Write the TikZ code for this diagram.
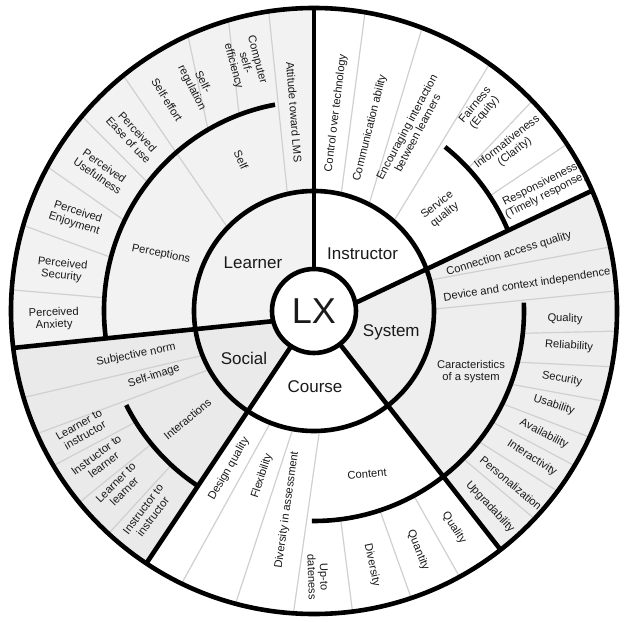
\documentclass[tikz,border=0pt]{standalone}
\usepackage{fontspec}
\setmainfont{Liberation Sans}
\usepackage{tikz}
\usetikzlibrary{calc}

\definecolor{learnerfill}{HTML}{F2F2F2}
\definecolor{systemfill}{HTML}{EEEEEE}
\definecolor{socialfill}{HTML}{EAEAEA}
\definecolor{sepgray}{HTML}{D0D0D0}
\definecolor{ink}{HTML}{1A1A1A}

\tikzset{
  bold line/.style={line width=4.6pt},
  leaf sep/.style={draw=sepgray, line width=1.2pt},
  leaf/.style={font=\fontsize{11.2}{12.2}\selectfont, text=ink, align=center, inner sep=0pt},
  core/.style={font=\fontsize{17}{20}\selectfont, text=ink, inner sep=0pt},
}

\begin{document}
\begin{tikzpicture}[x=1pt, y=1pt]
\useasboundingbox (-314,-310) rectangle (312,311);

% Disc and shaded sectors
\fill[white] (0,0) circle (303);
\fill[learnerfill] (90:42) -- (90:303) arc[start angle=90, end angle=187, radius=303]
  -- (194:42) arc[start angle=194, end angle=90, radius=42] -- cycle;
\fill[systemfill] (11:42) -- (23.4:303) arc[start angle=23.4, end angle=-52, radius=303]
  -- (-52:42) arc[start angle=-52, end angle=11, radius=42] -- cycle;
\fill[socialfill] (194:42) -- (187:303) arc[start angle=187, end angle=236.4, radius=303]
  -- (237:42) arc[start angle=237, end angle=194, radius=42] -- cycle;

% Learner separators
\draw[leaf sep] (102.8:120) -- (98.6:303);
\draw[leaf sep] (110.9:210) -- (106.4:303);
\draw[leaf sep] (120.3:210) -- (114.6:303);
\draw[leaf sep] (136:120) -- (129:303);
\draw[leaf sep] (142.3:210) -- (140:303);
\draw[leaf sep] (154.5:210) -- (151.6:303);
\draw[leaf sep] (165.2:210) -- (163.6:303);
\draw[leaf sep] (176.4:210) -- (176:303);

% Instructor separators
\draw[leaf sep] (76.9:120) -- (80.3:303);
\draw[leaf sep] (62.7:120) -- (69.1:303);
\draw[leaf sep] (48.4:120) -- (54.6:303);
\draw[leaf sep] (42.8:210) -- (43.9:303);
\draw[leaf sep] (33.2:210) -- (33.4:303);

% System separators
\draw[leaf sep] (14.9:120) -- (12.2:303);
\draw[leaf sep] (0.9:120) -- (3.8:303);
\draw[leaf sep] (-6.1:210) -- (-3.8:303);
\draw[leaf sep] (-14.1:210) -- (-10.6:303);
\draw[leaf sep] (-20.4:210) -- (-17.3:303);
\draw[leaf sep] (-26.2:210) -- (-24.6:303);
\draw[leaf sep] (-31.9:210) -- (-30.7:303);
\draw[leaf sep] (-38.4:210) -- (-36.5:303);
\draw[leaf sep] (-44.7:210) -- (-43.3:303);

% Course separators
\draw[leaf sep] (-61.6:210) -- (-61.3:303);
\draw[leaf sep] (-71.7:210) -- (-71.3:303);
\draw[leaf sep] (-82.7:210) -- (-82.7:303);
\draw[leaf sep] (-87.4:120) -- (-93.9:303);
\draw[leaf sep] (-100.2:120) -- (-105:303);
\draw[leaf sep] (-111.3:120) -- (-115.9:303);

% Social separators
\draw[leaf sep] (201.7:120) -- (196.6:303);
\draw[leaf sep] (209.2:120) -- (203.9:303);
\draw[leaf sep] (211.9:210) -- (210.7:303);
\draw[leaf sep] (219.3:210) -- (219.2:303);
\draw[leaf sep] (227.2:210) -- (227.3:303);

% Rings and main borders
\draw[bold line] (0,0) circle (303);
\draw[bold line] (0,0) circle (120);
\draw[bold line] (100.7:210) arc[start angle=100.7, end angle=187.5, radius=210];
\draw[bold line] (51.4:210) arc[start angle=51.4, end angle=22.5, radius=210];
\draw[bold line] (2.3:210) arc[start angle=2.3, end angle=-52, radius=210];
\draw[bold line] (-52:210) arc[start angle=-52, end angle=-90.6, radius=210];
\draw[bold line] (206.6:210) arc[start angle=206.6, end angle=236.6, radius=210];
\draw[bold line] (90:42) -- (90:303);
\draw[bold line] (11:42) -- (23.4:303);
\draw[bold line] (-52:42) -- (-52:303);
\draw[bold line] (237:42) -- (236.4:303);
\draw[bold line] (194:42) -- (187:303);
\draw[bold line, fill=white] (0,0) circle (42);

% Centre and first ring
\node[font=\fontsize{36}{40}\selectfont, text=ink] (lx) at (0,0) {LX};
\node[core] (learner) at (-61,48) {Learner};
\node[core] (instructor) at (48.5,57.7) {Instructor};
\node[core] (system) at (77.3,-21.5) {System};
\node[core] (course) at (1,-75.5) {Course};
\node[core] (social) at (-70,-47.3) {Social};

% Second ring
\node[leaf, rotate=-11] (perceptions) at (-153,57) {Perceptions};
\node[leaf, rotate=-65] (self) at (-73,151) {Self};
\node[leaf, rotate=38] (service) at (127,101) {Service\\quality};
\node[leaf] (characteristics) at (157,-61) {Caracteristics\\of a system};
\node[leaf, rotate=5] (content) at (53,-163) {Content};
\node[leaf, rotate=40] (interactions) at (-126.5,-108) {Interactions};

% Learner leaves
\node[leaf, rotate=-85.5] (attitude) at (-20,199) {Attitude toward LMS};
\node[leaf, rotate=-75] (computer) at (-69,248) {Computer\\self-\\efficiency};
\node[leaf, rotate=-63] (regulation) at (-117,226) {Self-\\regulation};
\node[leaf, rotate=-58] (effort) at (-147,211) {Self-effort};
\node[leaf, rotate=-47] (ease) at (-181,175) {Perceived\\Ease of use};
\node[leaf, rotate=-35] (usefulness) at (-213,140) {Perceived\\Usefulness};
\node[leaf, rotate=-18] (enjoyment) at (-238,93) {Perceived\\Enjoyment};
\node[leaf, rotate=-6] (security) at (-252,41) {Perceived\\Security};
\node[leaf, rotate=2] (anxiety) at (-260,-8) {Perceived\\Anxiety};

% Instructor leaves
\node[leaf, rotate=83] (control) at (22,198) {Control over technology};
\node[leaf, rotate=76] (communication) at (56,183) {Communication ability};
\node[leaf, rotate=62] (encouraging) at (98,181) {Encouraging interaction\\between learners};
\node[leaf, rotate=50] (fairness) at (166,202) {Fairness\\(Equity)};
\node[leaf, rotate=38] (informativeness) at (197,164) {Informativeness\\(Clarity)};
\node[leaf, rotate=27] (responsiveness) at (229,121) {Responsiveness\\(Timely response)};

% System leaves
\node[leaf, rotate=17] (connection) at (195,57) {Connection access quality};
\node[leaf, rotate=9] (device) at (213,26) {Device and context independence};
\node[leaf, rotate=-1] (squality) at (251,-8) {Quality};
\node[leaf, rotate=-4] (reliability) at (255,-35) {Reliability};
\node[leaf, rotate=-10] (ssecurity) at (248,-68) {Security};
\node[leaf, rotate=-18] (usability) at (240,-94) {Usability};
\node[leaf, rotate=-27] (availability) at (230,-123) {Availability};
\node[leaf, rotate=-33] (interactivity) at (218,-147) {Interactivity};
\node[leaf, rotate=-40] (personalization) at (197,-172) {Personalization};
\node[leaf, rotate=-47] (upgradability) at (176,-196) {Upgradability};

% Course leaves
\node[leaf, rotate=-57] (cquality) at (140,-217) {Quality};
\node[leaf, rotate=-68] (quantity) at (104,-239) {Quantity};
\node[leaf, rotate=-78] (diversity) at (58,-254) {Diversity};
\node[leaf, rotate=-88] (uptodate) at (4,-266) {Up-to\\dateness};
\node[leaf, rotate=82] (assessment) at (-27,-199) {Diversity in assessment};
\node[leaf, rotate=72] (flexibility) at (-52,-165) {Flexibility};
\node[leaf, rotate=60] (design) at (-85,-158) {Design quality};

% Social leaves
\node[leaf, rotate=11] (subjective) at (-178,-44) {Subjective norm};
\node[leaf, rotate=18] (selfimage) at (-160,-65) {Self-image};
\node[leaf, rotate=30] (ltoi) at (-232,-119) {Learner to\\instructor};
\node[leaf, rotate=37] (itol) at (-214,-149) {Instructor to\\learner};
\node[leaf, rotate=45] (ltol) at (-194,-176) {Learner to\\learner};
\node[leaf, rotate=53] (itoi) at (-166,-202) {Instructor to\\instructor};

\end{tikzpicture}
\end{document}
